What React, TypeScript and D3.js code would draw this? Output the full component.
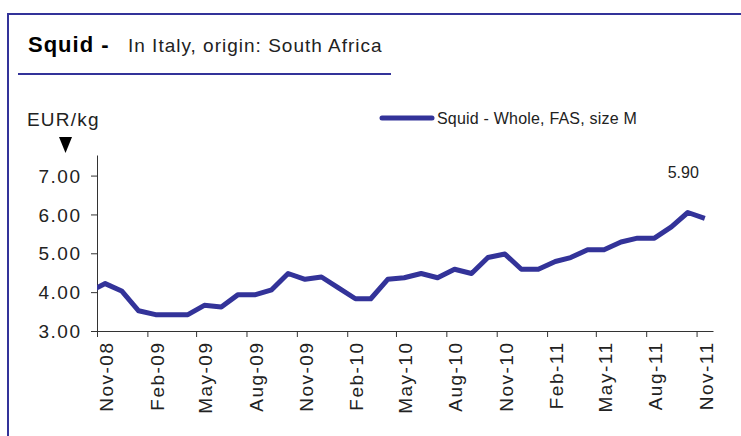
import React, { useEffect, useRef } from 'react';
import * as d3 from 'd3';

// monthly prices, mid-month, Oct-08 .. Nov-11 (Oct-08 sits left of the axis and is clipped)
const months = [
  '2008-10', '2008-11', '2008-12',
  '2009-01', '2009-02', '2009-03', '2009-04', '2009-05', '2009-06',
  '2009-07', '2009-08', '2009-09', '2009-10', '2009-11', '2009-12',
  '2010-01', '2010-02', '2010-03', '2010-04', '2010-05', '2010-06',
  '2010-07', '2010-08', '2010-09', '2010-10', '2010-11', '2010-12',
  '2011-01', '2011-02', '2011-03', '2011-04', '2011-05', '2011-06',
  '2011-07', '2011-08', '2011-09', '2011-10', '2011-11',
];
const prices = [
  4.0, 4.22, 4.03,
  3.52, 3.42, 3.42, 3.42, 3.66, 3.62,
  3.93, 3.93, 4.06, 4.48, 4.33, 4.39,
  4.11, 3.83, 3.83, 4.33, 4.37, 4.48,
  4.37, 4.59, 4.48, 4.89, 4.98, 4.59,
  4.59, 4.79, 4.89, 5.09, 5.09, 5.29,
  5.39, 5.39, 5.68, 6.05, 5.9,
];
const tickMonths = [
  '2008-11', '2009-02', '2009-05', '2009-08', '2009-11', '2010-02', '2010-05',
  '2010-08', '2010-11', '2011-02', '2011-05', '2011-08', '2011-11',
];
const yTicks = [3, 4, 5, 6, 7];
const seriesName = 'Squid - Whole, FAS, size M';
const lastLabel = '5.90';

const W = 741;
const H = 436;
const BLUE = '#333399';
const FONT = '"Liberation Sans", Arial, sans-serif';

export default function App() {
  const svgRef = useRef<SVGSVGElement>(null);

  useEffect(() => {
    if (!svgRef.current) return;
    const svg = d3.select(svgRef.current);
    svg.selectAll('*').remove();

    const parse = d3.timeParse('%Y-%m');
    const mid = (m: string) => d3.timeDay.offset(parse(m)!, 15);
    const data = months.map((m, i) => ({ date: mid(m), value: prices[i] }));

    const left = 97, right = 713, top = 155, bottom = 331;

    const x = d3.scaleTime()
      .domain([parse('2008-11')!, parse('2011-12')!])
      .range([left, right]);
    const y = d3.scaleLinear().domain([3, 7.53]).range([bottom, top]);

    // frame
    svg.append('path')
      .attr('d', `M8,${H} L8,14 L${W},14`)
      .attr('fill', 'none')
      .attr('stroke', BLUE)
      .attr('stroke-width', 2);

    // title
    const title = svg.append('text')
      .attr('x', 28).attr('y', 52)
      .attr('font-family', FONT)
      .attr('fill', '#000');
    title.append('tspan').attr('font-size', 22).attr('font-weight', 'bold')
      .attr('letter-spacing', 1).text('Squid -');
    title.append('tspan').attr('x', 128).attr('font-size', 19)
      .attr('letter-spacing', 1).attr('fill', '#222').text('In Italy, origin: South Africa');

    svg.append('line')
      .attr('x1', 18).attr('x2', 391).attr('y1', 74).attr('y2', 74)
      .attr('stroke', BLUE).attr('stroke-width', 2);

    // unit label
    svg.append('text')
      .attr('x', 27).attr('y', 126)
      .attr('font-family', FONT).attr('font-size', 19).attr('letter-spacing', 1.2).attr('fill', '#222')
      .text('EUR/kg');
    svg.append('path')
      .attr('d', 'M59,137 L72,137 L65.5,153 Z')
      .attr('fill', '#000');

    // legend
    svg.append('line')
      .attr('x1', 382).attr('x2', 432).attr('y1', 118).attr('y2', 118)
      .attr('stroke', BLUE).attr('stroke-width', 5).attr('stroke-linecap', 'round');
    svg.append('text')
      .attr('x', 437).attr('y', 124)
      .attr('font-family', FONT).attr('font-size', 16).attr('letter-spacing', 0.2).attr('fill', '#222')
      .text(seriesName);

    // y axis
    const yAxis = svg.append('g')
      .attr('transform', `translate(${left},0)`)
      .call(d3.axisLeft(y).tickValues(yTicks).tickFormat(d3.format('.2f')).tickSize(6).tickSizeOuter(0));
    yAxis.select('.domain').attr('stroke', '#333');
    yAxis.selectAll('.tick line').attr('stroke', '#333');
    yAxis.selectAll('.tick text')
      .attr('font-family', FONT).attr('font-size', 19).attr('letter-spacing', 1.5).attr('fill', '#222')
      .attr('x', -15.5).attr('dy', '0.35em');

    // x axis
    const xAxis = svg.append('g')
      .attr('transform', `translate(0,${bottom})`)
      .call(d3.axisBottom(x)
        .tickValues(tickMonths.map(m => parse(m)!))
        .tickFormat(d3.timeFormat('%b-%y') as any)
        .tickSize(6).tickSizeOuter(0));
    xAxis.select('.domain').attr('stroke', '#333');
    xAxis.selectAll('.tick line').attr('stroke', '#333');
    xAxis.selectAll('.tick text')
      .attr('font-family', FONT).attr('font-size', 19).attr('letter-spacing', 1.5).attr('fill', '#222')
      .attr('transform', 'rotate(-90)')
      .attr('text-anchor', 'end')
      .attr('x', -10.5).attr('y', 9).attr('dy', '0.35em');

    // series line, clipped to the plot area
    svg.append('clipPath').attr('id', 'plot-clip')
      .append('rect')
      .attr('x', left).attr('y', 0).attr('width', right - left + 10).attr('height', bottom);

    const line = d3.line<{ date: Date; value: number }>()
      .x(d => x(d.date))
      .y(d => y(d.value));

    svg.append('path')
      .datum(data)
      .attr('clip-path', 'url(#plot-clip)')
      .attr('d', line)
      .attr('fill', 'none')
      .attr('stroke', BLUE)
      .attr('stroke-width', 5)
      .attr('stroke-linejoin', 'round');

    const last = data[data.length - 1];
    svg.append('text')
      .attr('x', x(last.date) - 6).attr('y', 178)
      .attr('text-anchor', 'end')
      .attr('font-family', FONT).attr('font-size', 16).attr('fill', '#222')
      .text(lastLabel);
  }, []);

  return (
    <svg ref={svgRef} width={W} height={H}
      style={{ position: 'absolute', left: 0, top: 0, background: '#fff' }} />
  );
}
